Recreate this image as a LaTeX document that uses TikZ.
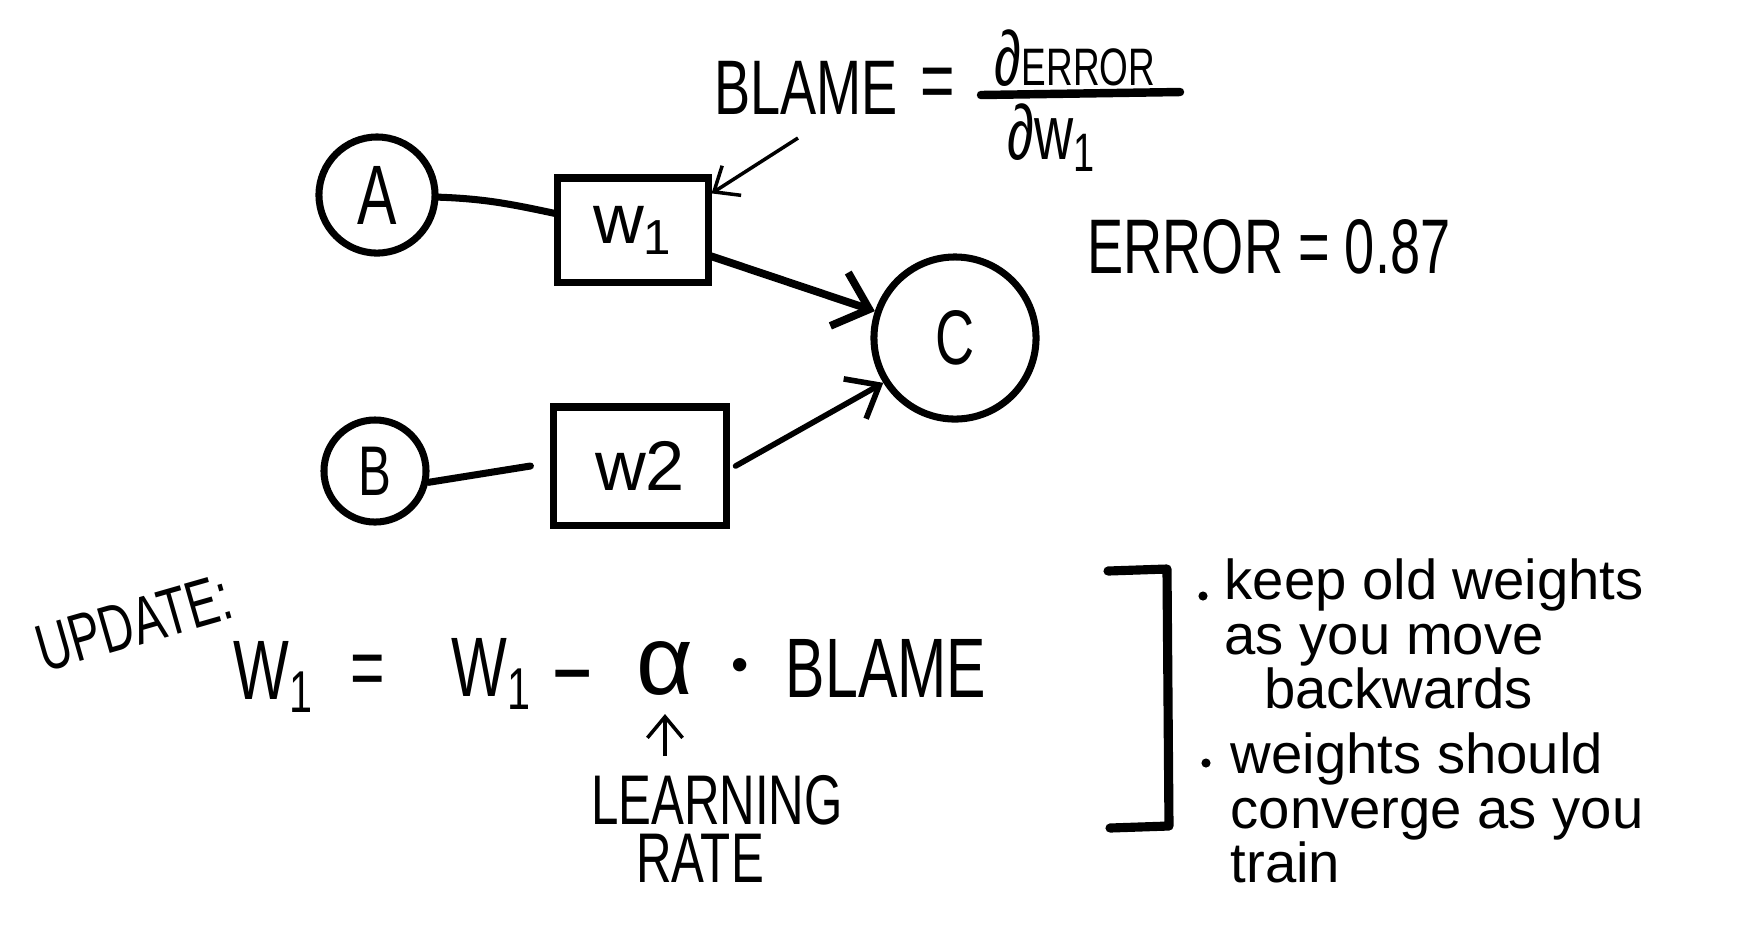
\documentclass[tikz,border=0pt]{standalone}
\usepackage{fontspec}
\setmainfont{Liberation Sans}
\newfontfamily\capshand[FakeStretch=0.7]{Liberation Sans}
\usepackage{tikz}
\usetikzlibrary{arrows.meta, positioning, calc}
\tikzset{
  %% ---- nodes ----
  unit/.style   = {circle, draw, line width=2pt, inner sep=0pt,
                   minimum size=#1},
  unit/.default = 1.15cm,
  weight/.style = {rectangle, draw, line width=2pt, inner sep=0pt,
                   font=\fontsize{20}{22}\selectfont},
  caps/.style   = {inner sep=0pt, font=\fontsize{#1}{#1}\selectfont\capshand},
  caps/.default = 22,
  note/.style   = {inner sep=0pt, align=left,
                   font=\fontsize{16}{15.5}\selectfont},
  %% ---- arrows ----
  wire/.style   = {line width=2pt, line cap=round},
  push/.style   = {-{Straight Barb[length=9pt, width=16pt]}, line width=2.2pt,
                   line cap=round},
  pushthin/.style = {-{Straight Barb[length=8pt, width=13pt]}, line width=1.6pt,
                   line cap=round},
  hint/.style   = {-{Straight Barb[length=6pt, width=10pt]}, line width=1pt},
}

\begin{document}
\begin{tikzpicture}[x=0.01cm, y=-0.01cm]
\useasboundingbox (0,0) rectangle (1738,950);

%% ── Network: inputs, weights, output ─────────────────────────────────────
\node[unit=1.16cm, caps=24] (A) at (377,195) {A};
\node[unit=1.02cm, caps=20] (B) at (375,471) {B};
\node[unit=1.62cm, caps=22] (C) at (955,338) {C};

\node[weight, minimum width=1.50cm, minimum height=1.04cm]
  (w1) at (633,230) {w\textsubscript{1}};
\node[weight, minimum width=1.72cm, minimum height=1.18cm]
  (w2) at (640,466) {w2};

\draw[wire] (A) to[out=-2, in=168] (w1);
\draw[push] (w1) -- (C);
\draw[wire] (B.-12) -- ([xshift=-0.2cm]w2.west);
\draw[pushthin] ([xshift=0.06cm]w2.east) -- (C.212);

%% ── Blame definition ──────────────────────────────────────────────────────
\node[caps=22] (blame) at (806,88) {BLAME};
\node[caps=24] (blameeq) at (938,89) {=};
\node[caps=22] (num) at (1075,58) {∂{\fontsize{15}{15}\selectfont ERROR}};
\draw[line width=2.4pt, line cap=round] (981,95) -- (1180,92);
\node[caps=22] (den) at (1052,138) {∂w\textsubscript{1}};

\coordinate (blametail) at (798,138);
\draw[hint] (blametail) -- (w1.25);

\node[caps=22] (err) at (1269,247) {ERROR = 0.87};

%% ── Update rule ───────────────────────────────────────────────────────────
\node[caps=19, rotate=16] (update) at (134,623) {UPDATE:};

\node[caps=24] (wlhs)  at (274,677) {W\textsubscript{1}};
\node[caps=24] (eqs)   at (368,676) {=};
\node[caps=24] (wrhs)  at (492,674) {W\textsubscript{1}};
\node[caps=28] (minus) at (573,688) {−};
\node[inner sep=0pt, font=\fontsize{28}{28}\selectfont] (alpha) at (665,668) {α};
\node[inner sep=0pt, font=\fontsize{14}{14}\selectfont] (times) at (740,670) {•};
\node[caps=24] (upd)   at (886,668) {BLAME};

\node[caps=20] (learn) at (717,800) {LEARNING};
\node[caps=20] (rate)  at (700,858) {RATE};
\coordinate (lrtail) at (665,756);
\draw[hint] (lrtail) -- (665,714);

%% ── Notes ─────────────────────────────────────────────────────────────────
\draw[line width=2.6pt, line cap=round, line join=round]
  (1108,571) -- (1167,569) -- (1169,826) -- (1110,828);

\fill (1203,596) circle (1.3pt);
\node[note, anchor=north west] (keep) at (1224,558)
  {keep old weights\\as you move\\\hspace{0.7em}backwards};
\fill (1206,763) circle (1.3pt);
\node[note, anchor=north west] (conv) at (1230,732)
  {weights should\\converge as you\\train};

\end{tikzpicture}
\end{document}
